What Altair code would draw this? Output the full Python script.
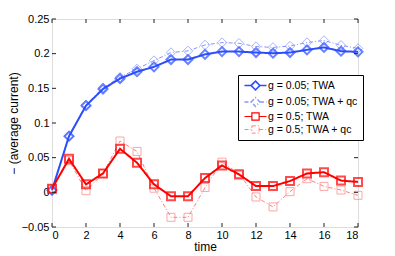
import altair as alt
import pandas as pd

time = list(range(19))
blue_twa = [0.003, 0.081, 0.125, 0.149, 0.164, 0.174, 0.181, 0.1915, 0.1915, 0.199,
            0.203, 0.203, 0.2016, 0.2007, 0.2016, 0.2055, 0.209, 0.2036, 0.2026]
blue_qc = [0.003, 0.081, 0.126, 0.151, 0.166, 0.178, 0.190, 0.2016, 0.204, 0.2126,
           0.216, 0.215, 0.2103, 0.209, 0.211, 0.216, 0.219, 0.212, 0.2075]
red_twa = [0.0053, 0.0484, 0.0115, 0.0273, 0.0628, 0.0427, 0.0115, -0.0057, -0.0057, 0.0206,
           0.0388, 0.0259, 0.009, 0.009, 0.0163, 0.0273, 0.029, 0.017, 0.015]
red_qc = [0.0053, 0.046, 0.0024, 0.027, 0.074, 0.059, 0.006, -0.036, -0.036, 0.007,
          0.0435, 0.027, -0.0067, -0.021, 0.001, 0.0197, 0.0086, 0.0033, -0.0043]

series_names = ["g = 0.05; TWA", "g = 0.05; TWA + qc", "g = 0.5; TWA", "g = 0.5; TWA + qc"]
series_vals = [blue_twa, blue_qc, red_twa, red_qc]
colors = ["#2a4dff", "#8494ff", "#ff0000", "#ff8080"]
dashes = [[1, 0], [4, 2, 1, 2], [1, 0], [4, 2, 1, 2]]
widths = [2, 1, 2, 1]
shapes = ["diamond", "diamond", "square", "square"]
msizes = [81, 90, 64, 64]

x_ticks = [0, 2, 4, 6, 8, 10, 12, 14, 16, 18]
y_ticks = [-0.05, 0, 0.05, 0.1, 0.15, 0.2, 0.25]

rows = []
for name, vals in zip(series_names, series_vals):
    for t, v in zip(time, vals):
        rows.append({"series": name, "t": t, "v": v})
df = pd.DataFrame(rows)

W, H = 306, 208
xs = alt.Scale(domain=[0, 18], nice=False)
ys = alt.Scale(domain=[-0.05, 0.25], nice=False)

FONT = "Liberation Sans"
xaxis = alt.Axis(values=x_ticks, ticks=False, domain=False, grid=False,
                 labelPadding=2, titlePadding=1, format="d", labelOverlap=False,
                 labelFont=FONT, labelFontSize=11, labelColor="black",
                 titleFont=FONT, titleFontSize=12, titleColor="black",
                 titleFontWeight="normal")
yaxis = alt.Axis(values=y_ticks, ticks=False, domain=False, grid=False,
                 labelPadding=3, titlePadding=1, format=".2~f", labelOverlap=False,
                 labelFont=FONT, labelFontSize=11, labelColor="black",
                 titleFont=FONT, titleFontSize=12, titleColor="black",
                 titleFontWeight="normal")
xenc = alt.X("t:Q", scale=xs, title="time", axis=xaxis)
yenc = alt.Y("v:Q", scale=ys, title="− (average current)", axis=yaxis)

base = alt.Chart(df)
layers = []
order = [1, 0, 3, 2]
for i in order:
    name = series_names[i]
    sub = base.transform_filter(alt.datum.series == name)
    line = sub.mark_line(color=colors[i], strokeWidth=widths[i], strokeDash=dashes[i]).encode(x=xenc, y=yenc)
    pts = sub.mark_point(shape=shapes[i], size=msizes[i], color=colors[i], filled=False,
                         strokeWidth=widths[i]).encode(x=xenc, y=yenc)
    layers += [line, pts]

# legend symbols: line with marker
leg_paths = [
    "M-2,0H-0.8 M-0.8,0L0,-0.8L0.8,0L0,0.8Z M0.8,0H2",
    "M-2,0H-0.8 M-0.8,0L0,-0.8L0.8,0L0,0.8Z M0.8,0H2",
    "M-2,0H-0.66 M-0.66,-0.66H0.66V0.66H-0.66Z M0.66,0H2",
    "M-2,0H-0.66 M-0.66,-0.66H0.66V0.66H-0.66Z M0.66,0H2",
]
legend = alt.Legend(orient="none", legendX=186, legendY=56, title=None,
                    fillColor="white", strokeColor="black", padding=4,
                    symbolSize=121, symbolOffset=7, labelOffset=6, rowPadding=0.5,
                    symbolFillColor="transparent", symbolOpacity=1,
                    labelFont=FONT, labelFontSize=10.5, labelColor="black",
                    cornerRadius=0)
leg_layer = base.transform_filter("datum.t < 0").mark_point(filled=False).encode(
    x=xenc, y=yenc,
    color=alt.Color("series:N", scale=alt.Scale(domain=series_names, range=colors), legend=legend),
    shape=alt.Shape("series:N", scale=alt.Scale(domain=series_names, range=leg_paths), legend=legend),
    strokeDash=alt.StrokeDash("series:N", scale=alt.Scale(domain=series_names, range=dashes), legend=legend),
    strokeWidth=alt.StrokeWidth("series:N", scale=alt.Scale(domain=series_names, range=[1.6, 1, 1.6, 1]), legend=legend),
)

# inward tick marks
tx = pd.DataFrame({"t": x_ticks})
ty = pd.DataFrame({"v": y_ticks})
tick_col = "#222222"
ticks = [
    alt.Chart(tx).mark_rule(color=tick_col, strokeWidth=1).encode(x=xenc, y=alt.value(H), y2=alt.value(H - 4)),
    alt.Chart(tx).mark_rule(color=tick_col, strokeWidth=1).encode(x=xenc, y=alt.value(0), y2=alt.value(4)),
    alt.Chart(ty).mark_rule(color=tick_col, strokeWidth=1).encode(y=yenc, x=alt.value(0), x2=alt.value(4)),
    alt.Chart(ty).mark_rule(color=tick_col, strokeWidth=1).encode(y=yenc, x=alt.value(W), x2=alt.value(W - 4)),
]

chart = alt.layer(*layers, leg_layer, *ticks).properties(
    width=W, height=H,
    autosize=alt.AutoSizeParams(type="none"),
    padding={"left": 44, "top": 11, "right": 20, "bottom": 28},
).configure_view(stroke="#222222", strokeWidth=1).configure_axis(
    labelOverlap=False
).configure(background="white")

chart.save("out.html", embed_options={"renderer": "svg", "actions": False})
